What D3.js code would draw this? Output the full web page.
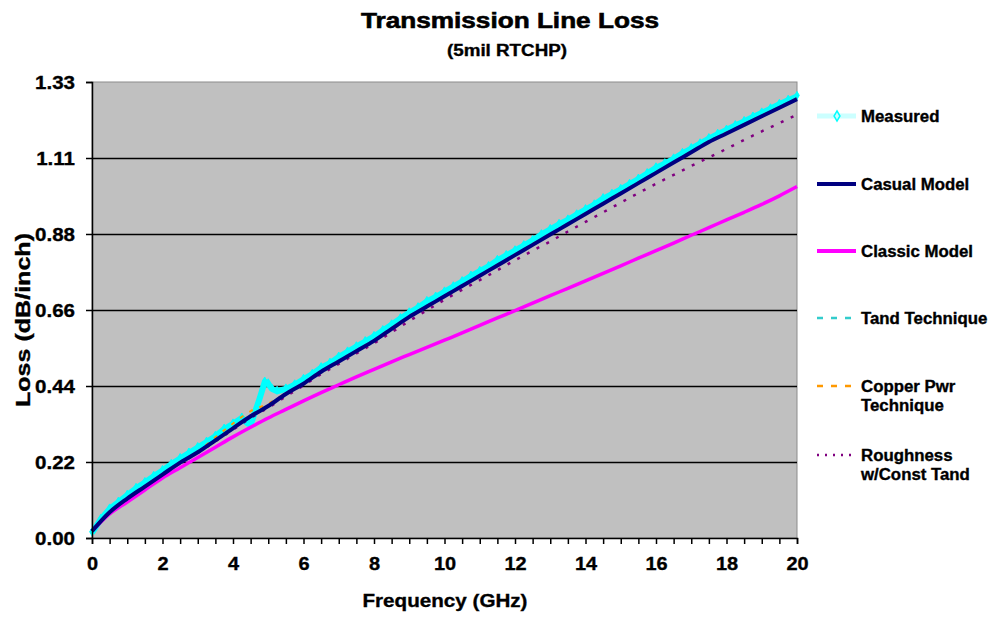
<!DOCTYPE html>
<html>
<head>
<meta charset="utf-8">
<script src="https://cdn.jsdelivr.net/npm/d3@7"></script>
<style>
  body { margin: 0; background: #fff; }
  svg text { font-family: "Liberation Sans", Arial, sans-serif; font-weight: bold; fill: #000; stroke: #000; stroke-width: 0.35px; }
</style>
</head>
<body>
<div id="chart"></div>
<script>
// ---------- Data ----------
const modelFreq = [0, 0.5, 1, 1.5, 2, 2.5, 3, 3.5, 4, 4.5, 5, 5.5, 6, 6.5, 7, 7.5, 8, 8.5, 9, 9.5, 10,
  10.5, 11, 11.5, 12, 12.5, 13, 13.5, 14, 14.5, 15, 15.5, 16, 16.5, 17, 17.5, 18, 18.5, 19, 19.5, 20]

const casualModel = [0.02, 0.075, 0.115, 0.15, 0.185, 0.22, 0.25, 0.285, 0.32, 0.355, 0.385, 0.42, 0.45, 0.485,
  0.515, 0.545, 0.575, 0.61, 0.645, 0.675, 0.705, 0.735, 0.765, 0.795, 0.825, 0.855, 0.885, 0.915, 0.945,
  0.975, 1.005, 1.035, 1.065, 1.095, 1.125, 1.155, 1.18, 1.205, 1.23, 1.255, 1.28]

const classicModel = [0.02, 0.07, 0.105, 0.14, 0.175, 0.205, 0.235, 0.265, 0.295, 0.323, 0.35, 0.375, 0.40,
  0.424, 0.447, 0.47, 0.492, 0.514, 0.535, 0.556, 0.577, 0.598, 0.62, 0.642, 0.663, 0.685, 0.707, 0.728, 0.75,
  0.772, 0.794, 0.816, 0.838, 0.86, 0.883, 0.905, 0.928, 0.95, 0.973, 0.998, 1.025]

const tandTechnique = [0.02, 0.078, 0.118, 0.153, 0.188, 0.223, 0.253, 0.288, 0.323, 0.358, 0.388, 0.423,
  0.453, 0.488, 0.518, 0.548, 0.578, 0.613, 0.648, 0.678, 0.708, 0.738, 0.768, 0.798, 0.828, 0.858, 0.888,
  0.918, 0.948, 0.978, 1.008, 1.038, 1.068, 1.098, 1.128, 1.158, 1.183, 1.208, 1.233, 1.258, 1.283]

const copperPwr = [0.02, 0.076, 0.116, 0.151, 0.186, 0.221, 0.252, 0.294, 0.334, 0.37, 0.392, 0.422, 0.452,
  0.487, 0.517, 0.547, 0.577, 0.612, 0.647, 0.677, 0.707, 0.737, 0.767, 0.797, 0.827, 0.857, 0.887, 0.917,
  0.947, 0.977, 1.007, 1.037, 1.067, 1.097, 1.127, 1.157, 1.182, 1.207, 1.232, 1.257, 1.282]

const roughness = [0.02, 0.075, 0.115, 0.15, 0.185, 0.218, 0.248, 0.282, 0.316, 0.35, 0.38, 0.413, 0.445,
  0.478, 0.508, 0.538, 0.568, 0.6, 0.633, 0.664, 0.695, 0.724, 0.752, 0.781, 0.81, 0.838, 0.865, 0.894,
  0.922, 0.95, 0.978, 1.006, 1.033, 1.059, 1.085, 1.11, 1.135, 1.161, 1.186, 1.21, 1.235]

const measuredFreq = [0, 0.25, 0.5, 0.75, 1, 1.25, 1.5, 1.75, 2, 2.25, 2.5, 2.75, 3, 3.25, 3.5, 3.75, 4, 4.25,
  4.4, 4.5, 4.6, 4.75, 4.9, 5, 5.1, 5.25, 5.5, 5.75, 6, 6.25, 6.5, 6.75, 7, 7.25, 7.5, 7.75, 8, 8.25, 8.5,
  8.75, 9, 9.25, 9.5, 9.75, 10, 10.25, 10.5, 10.75, 11, 11.25, 11.5, 11.75, 12, 12.25, 12.5, 12.75, 13,
  13.25, 13.5, 13.75, 14, 14.25, 14.5, 14.75, 15, 15.25, 15.5, 15.75, 16, 16.25, 16.5, 16.75, 17, 17.25,
  17.5, 17.75, 18, 18.25, 18.5, 18.75, 19, 19.25, 19.5, 19.75, 20]

const measuredLoss = [0.015, 0.055, 0.085, 0.105, 0.125, 0.145, 0.162, 0.18, 0.197, 0.215, 0.232, 0.248,
  0.264, 0.28, 0.297, 0.318, 0.333, 0.35, 0.335, 0.33, 0.36, 0.405, 0.455, 0.45, 0.435, 0.428, 0.435, 0.447,
  0.463, 0.478, 0.497, 0.51, 0.528, 0.543, 0.558, 0.573, 0.588, 0.605, 0.622, 0.64, 0.657, 0.672, 0.69,
  0.703, 0.718, 0.733, 0.748, 0.764, 0.778, 0.792, 0.81, 0.824, 0.838, 0.853, 0.868, 0.885, 0.9, 0.915,
  0.928, 0.943, 0.958, 0.972, 0.99, 1.003, 1.017, 1.032, 1.047, 1.063, 1.08, 1.092, 1.106, 1.122, 1.136,
  1.15, 1.165, 1.178, 1.19, 1.203, 1.215, 1.228, 1.24, 1.252, 1.265, 1.277, 1.288]

const yTicks = [0, 0.2217, 0.4433, 0.665, 0.8867, 1.1083, 1.33]
const yTickLabels = ['0.00', '0.22', '0.44', '0.66', '0.88', '1.11', '1.33']
const xLabelTicks = [0, 2, 4, 6, 8, 10, 12, 14, 16, 18, 20]
const xMinorTicks = d3.range(0, 20.01, 0.5)

const seriesNames = ['Measured', 'Casual Model', 'Classic Model', 'Tand Technique', 'Copper Pwr\nTechnique', 'Roughness\nw/Const Tand']

// ---------- Layout ----------
const width = 992
const height = 617
const margin = { top: 82, right: 195, bottom: 79, left: 92 }
const innerW = width - margin.left - margin.right
const innerH = height - margin.top - margin.bottom

const x = d3.scaleLinear().domain([0, 20]).range([0, innerW])
const y = d3.scaleLinear().domain([0, 1.33]).range([innerH, 0])

// stretch text horizontally (original chart was rendered wide)
function stretch (sel, k) {
  sel.each(function () {
    const w = this.getComputedTextLength()
    d3.select(this).attr('textLength', w * k).attr('lengthAdjust', 'spacingAndGlyphs')
  })
}

const svg = d3.select('#chart').append('svg')
  .attr('width', width)
  .attr('height', height)

// ---------- Titles ----------
svg.append('text')
  .attr('x', 510).attr('y', 28)
  .attr('text-anchor', 'middle')
  .style('font-size', '22px')
  .style('stroke-width', '0.6px')
  .text('Transmission Line Loss')
  .attr('textLength', 298).attr('lengthAdjust', 'spacingAndGlyphs')

svg.append('text')
  .attr('x', 507).attr('y', 56)
  .attr('text-anchor', 'middle')
  .style('font-size', '16px')
  .text('(5mil RTCHP)')
  .attr('textLength', 120).attr('lengthAdjust', 'spacingAndGlyphs')

const g = svg.append('g').attr('transform', `translate(${margin.left},${margin.top})`)

// ---------- Plot area ----------
g.append('rect')
  .attr('width', innerW).attr('height', innerH)
  .attr('fill', '#c0c0c0')
  .attr('stroke', '#8c8c8c')
  .attr('stroke-width', 1)

// grid lines
g.append('g')
  .call(d3.axisLeft(y).tickValues(yTicks.slice(1, -1)).tickSize(-innerW).tickFormat(''))
  .call(ax => ax.select('.domain').remove())
  .call(ax => ax.selectAll('.tick line').attr('stroke', '#000').attr('stroke-width', 1.5))

// ---------- Series ----------
const lineGen = d3.line().x(d => x(d[0])).y(d => y(d[1]))
const smoothGen = d3.line().curve(d3.curveMonotoneX).x(d => x(d[0])).y(d => y(d[1]))
const zip = (xs, ys) => xs.map((v, i) => [v, ys[i]])

const clip = svg.append('defs').append('clipPath').attr('id', 'plotclip')
clip.append('rect').attr('x', -4).attr('y', -4).attr('width', innerW + 8).attr('height', innerH + 8)
const series = g.append('g').attr('clip-path', 'url(#plotclip)')

const measuredPts = zip(measuredFreq, measuredLoss)
series.append('path')
  .datum(measuredPts)
  .attr('fill', 'none')
  .attr('stroke', '#00ffff')
  .attr('stroke-width', 6)
  .attr('stroke-linejoin', 'round')
  .attr('d', lineGen)

const diamond = d3.symbol().type(d3.symbolDiamond).size(18)
series.selectAll('.mk')
  .data(measuredPts)
  .join('path')
  .attr('class', 'mk')
  .attr('transform', d => `translate(${x(d[0])},${y(d[1]) - 1})`)
  .attr('d', diamond)
  .attr('fill', '#00ffff')
  .attr('stroke', '#00ffff')
  .attr('stroke-width', 1)

series.append('path')
  .datum(zip(modelFreq, tandTechnique))
  .attr('fill', 'none').attr('stroke', '#33cccc').attr('stroke-width', 2)
  .attr('stroke-dasharray', '6,5')
  .attr('d', smoothGen)

series.append('path')
  .datum(zip(modelFreq, copperPwr))
  .attr('fill', 'none').attr('stroke', '#ff9900').attr('stroke-width', 2)
  .attr('stroke-dasharray', '4,7')
  .attr('d', smoothGen)

series.append('path')
  .datum(zip(modelFreq, classicModel))
  .attr('fill', 'none').attr('stroke', '#ff00ff').attr('stroke-width', 3.5)
  .attr('d', smoothGen)

series.append('path')
  .datum(zip(modelFreq, roughness))
  .attr('fill', 'none').attr('stroke', '#800080').attr('stroke-width', 2.5)
  .attr('stroke-dasharray', '3,8')
  .attr('d', smoothGen)

series.append('path')
  .datum(zip(modelFreq, casualModel))
  .attr('fill', 'none').attr('stroke', '#000080').attr('stroke-width', 4)
  .attr('stroke-linejoin', 'round')
  .attr('d', smoothGen)

// ---------- Axes ----------
const yAxis = g.append('g')
  .call(d3.axisLeft(y).tickValues(yTicks).tickSize(6).tickPadding(11).tickFormat((_, i) => yTickLabels[i]))
yAxis.select('.domain').attr('stroke', '#000').attr('stroke-width', 1.5)
yAxis.selectAll('.tick line').attr('stroke', '#000').attr('stroke-width', 1.5)
yAxis.selectAll('text')
  .style('font-size', '19px')
  .style('font-family', '"Liberation Sans", Arial, sans-serif')
  .style('font-weight', 'bold')
  .attr('fill', '#000')
  .call(stretch, 1.08)

const xMinor = g.append('g')
  .attr('transform', `translate(0,${innerH})`)
  .call(d3.axisBottom(x).tickValues(xMinorTicks).tickSize(6).tickFormat(''))
xMinor.select('.domain').attr('stroke', '#000').attr('stroke-width', 1.5)
xMinor.selectAll('.tick line').attr('stroke', '#000').attr('stroke-width', 1.5)

const xAxis = g.append('g')
  .attr('transform', `translate(0,${innerH})`)
  .call(d3.axisBottom(x).tickValues(xLabelTicks).tickSize(0).tickPadding(19).tickFormat(d3.format('d')))
xAxis.select('.domain').remove()
xAxis.selectAll('text')
  .style('font-size', '19px')
  .style('font-family', '"Liberation Sans", Arial, sans-serif')
  .style('font-weight', 'bold')
  .attr('fill', '#000')
  .call(stretch, 1.05)

// axis titles
svg.append('text')
  .attr('x', 445).attr('y', 607)
  .attr('text-anchor', 'middle')
  .style('font-size', '19px')
  .text('Frequency (GHz)')
  .attr('textLength', 165).attr('lengthAdjust', 'spacingAndGlyphs')

svg.append('text')
  .attr('transform', 'translate(30,320) rotate(-90)')
  .attr('text-anchor', 'middle')
  .style('font-size', '20px')
  .text('Loss (dB/inch)')
  .attr('textLength', 174).attr('lengthAdjust', 'spacingAndGlyphs')

// ---------- Legend ----------
const legendStyles = [
  { color: '#ccffff', width: 5, dash: null, marker: true },
  { color: '#000080', width: 4, dash: null },
  { color: '#ff00ff', width: 4, dash: null },
  { color: '#33cccc', width: 2.5, dash: '6,8' },
  { color: '#ff9900', width: 2.5, dash: '6,8' },
  { color: '#800080', width: 2.5, dash: '2,6' }
]
const legendY = [116, 184, 251, 318, 386, 455]

const legend = svg.append('g')
const items = legend.selectAll('.legend-item')
  .data(seriesNames)
  .join('g')
  .attr('class', 'legend-item')
  .attr('transform', (_, i) => `translate(817,${legendY[i]})`)

items.append('line')
  .attr('x1', 0).attr('x2', 39).attr('y1', 0).attr('y2', 0)
  .attr('stroke', (_, i) => legendStyles[i].color)
  .attr('stroke-width', (_, i) => legendStyles[i].width)
  .attr('stroke-dasharray', (_, i) => legendStyles[i].dash)

items.filter((_, i) => legendStyles[i].marker)
  .append('path')
  .attr('transform', 'translate(20,0)')
  .attr('d', d3.symbol().type(d3.symbolDiamond).size(30))
  .attr('fill', '#ccffff')
  .attr('stroke', '#00ffff')
  .attr('stroke-width', 1.5)

items.each(function (name) {
  const lines = name.split('\n')
  const t = d3.select(this).append('text')
    .attr('x', 44).attr('y', 6)
    .style('font-size', '16px')
  lines.forEach((ln, j) => {
    t.append('tspan').attr('x', 44).attr('dy', j === 0 ? 0 : 19).text(ln)
  })
})
items.selectAll('tspan').call(stretch, 1.05)
</script>
</body>
</html>
